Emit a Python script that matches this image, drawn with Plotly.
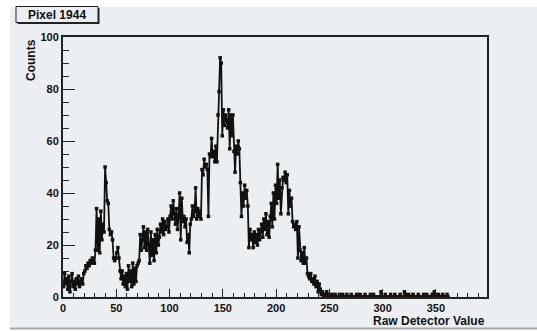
import numpy as np
import plotly.graph_objects as go

# ---- data (histogram "Pixel 1944", 1 unit bins starting at 0) ----
bin_start = 0
bin_width = 1
counts = [
    4, 9, 5, 7, 3, 8, 2, 6, 9, 4,
    6, 3, 7, 5, 8, 4, 6, 7, 5, 9,
    10, 12, 11, 13, 12, 14, 13, 15, 14, 13,
    18, 34, 18, 30, 17, 33, 22, 28, 25, 50,
    44, 37, 36, 26, 24, 25, 22, 15, 14, 15,
    17, 19, 15, 10, 7, 10, 5, 8, 4, 9,
    3, 12, 6, 10, 4, 13, 5, 11, 6, 12,
    13, 14, 24, 18, 22, 27, 19, 25, 18, 26,
    20, 13, 25, 16, 22, 14, 24, 17, 26, 20,
    23, 28, 25, 30, 24, 29, 26, 27, 30, 25,
    31, 35, 30, 37, 32, 28, 34, 26, 31, 40,
    22, 38, 29, 31, 27, 30, 21, 24, 17, 28,
    30, 35, 31, 33, 42, 30, 34, 31, 33, 30,
    49, 47, 53, 50, 51, 49, 31, 55, 54, 61,
    54, 56, 52, 58, 52, 70, 79, 92, 90, 62,
    72, 66, 70, 68, 65, 72, 57, 70, 62, 70,
    56, 48, 58, 55, 60, 57, 44, 31, 40, 35,
    43, 38, 41, 35, 19, 26, 22, 24, 19, 25,
    21, 24, 20, 26, 22, 25, 28, 23, 30, 26,
    32, 24, 29, 23, 31, 36, 27, 40, 30, 43,
    36, 51, 38, 45, 32, 42, 46, 45, 48, 44,
    47, 32, 41, 35, 38, 29, 27, 28, 26, 29,
    15, 27, 18, 14, 17, 13, 19, 13, 15, 9,
    8, 7, 9, 6, 7, 5, 8, 4, 6, 2,
    5, 3, 1, 2, 0, 1, 0, 2, 0, 1,
    0, 0, 1, 0, 0, 1, 0, 0, 0, 1,
    0, 0, 1, 0, 0, 0, 1, 0, 0, 0,
    1, 0, 0, 0, 0, 1, 0, 0, 1, 0,
    0, 0, 0, 1, 0, 0, 0, 0, 1, 0,
    0, 1, 0, 0, 0, 0, 0, 0, 2, 0,
    0, 0, 1, 0, 0, 0, 0, 1, 0, 0,
    0, 1, 0, 0, 0, 0, 1, 0, 0, 0,
    2, 1, 0, 0, 1, 0, 0, 0, 1, 0,
    0, 0, 0, 1, 0, 0, 0, 0, 1, 0,
    0, 1, 0, 0, 0, 0, 1, 0, 2, 1,
    0, 0, 1, 0, 0, 0, 1, 0, 0, 0,
    1, 0,
]
x_range = [0, 398]
y_range = [0, 100]
x_major = [0, 50, 100, 150, 200, 250, 300, 350]
y_major = [0, 20, 40, 60, 80, 100]
title_text = "Pixel 1944"
x_title = "Raw Detector Value"
y_title = "Counts"

bin_centers = bin_start + bin_width * (np.arange(len(counts)) + 0.5)

W, H = 537, 331
L, R, T, B = 63, 50, 37, 34
PW, PH = W - L - R, H - T - B


def px(x):
    return (x - L) / PW


def py(y):
    return (H - B - y) / PH


BG = "#eceff1"
FONT = "Liberation Sans, Arial, Helvetica, sans-serif"

fig = go.Figure()
fig.add_trace(go.Scatter(
    x=bin_centers, y=counts, mode="lines+markers",
    line=dict(color="#111111", width=1.8),
    marker=dict(symbol="square", size=3.5, color="#111111"),
    hoverinfo="skip", showlegend=False,
))

shapes = [
    # canvas background
    dict(type="rect", xref="paper", yref="paper", x0=px(10), x1=px(540),
         y0=py(328), y1=py(7), fillcolor=BG, line=dict(width=0), layer="below"),
    dict(type="line", xref="paper", yref="paper", x0=px(10), x1=px(540),
         y0=py(328.5), y1=py(328.5), line=dict(color="#a8a8a8", width=2), layer="below"),
    # title box shadow and box
    dict(type="rect", xref="paper", yref="paper", x0=px(17.5), x1=px(99.5),
         y0=py(24), y1=py(8), fillcolor="#222222", line=dict(width=0)),
    dict(type="rect", xref="paper", yref="paper", x0=px(16), x1=px(98),
         y0=py(22.5), y1=py(6.5), fillcolor=BG, line=dict(color="#222222", width=1)),
]

annotations = [
    dict(text=f"<b>{title_text}</b>", xref="paper", yref="paper",
         x=px(57), y=py(14.5), xanchor="center", yanchor="middle", showarrow=False,
         font=dict(family=FONT, size=12, color="#111111")),
    dict(text=f"<b>{x_title}</b>", xref="paper", yref="paper",
         x=px(487), y=py(321), xanchor="right", yanchor="middle", showarrow=False,
         font=dict(family=FONT, size=12, color="#111111")),
    dict(text=f"<b>{y_title}</b>", xref="paper", yref="paper",
         x=px(31), y=py(37), xanchor="center", yanchor="top", textangle=-90,
         showarrow=False, font=dict(family=FONT, size=12, color="#111111")),
]

fig.update_layout(
    width=W, height=H,
    margin=dict(l=L, r=R, t=T, b=B, pad=0),
    paper_bgcolor="white", plot_bgcolor=BG,
    shapes=shapes, annotations=annotations,
    xaxis=dict(range=x_range, tickvals=x_major, ticktext=[str(v) for v in x_major],
               ticks="inside", ticklen=8, tickwidth=1, tickcolor="#222222",
               minor=dict(dtick=10, tick0=0, ticks="inside", ticklen=4, tickwidth=1, tickcolor="#222222"),
               showline=True, linecolor="#222222", linewidth=2, mirror=True,
               showgrid=False, zeroline=False, ticklabelstandoff=0,
               tickfont=dict(family=FONT, size=11, color="#111111", weight="bold")),
    yaxis=dict(range=y_range, tickvals=y_major, ticktext=[str(v) for v in y_major],
               ticks="inside", ticklen=12, tickwidth=1, tickcolor="#222222",
               minor=dict(dtick=5, tick0=0, ticks="inside", ticklen=6, tickwidth=1, tickcolor="#222222"),
               showline=True, linecolor="#222222", linewidth=2, mirror=True,
               showgrid=False, zeroline=False,
               tickfont=dict(family=FONT, size=11, color="#111111", weight="bold")),
)

fig.write_html("out.html")
